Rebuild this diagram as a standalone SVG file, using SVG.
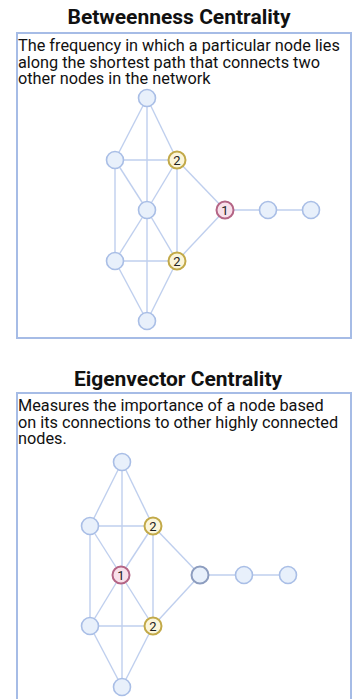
<svg xmlns="http://www.w3.org/2000/svg" width="354" height="699" viewBox="0 0 354 699">
<style>
.title{font-family:Roboto,"Liberation Sans",sans-serif;font-weight:bold;font-size:21px;fill:#111;text-anchor:middle}
.desc{font-family:Roboto,"Liberation Sans",sans-serif;font-size:16.3px;fill:#111}
.box{fill:#fff;stroke:#a6bce6;stroke-width:2}
.edge{stroke:#bfcfee;stroke-width:1.4;fill:none}
.n{fill:#e8f0fb;stroke:#a9bee6;stroke-width:1.6}
.n2{fill:#fbf5da;stroke:#c2a948;stroke-width:2}
.n1{fill:#f8e0ea;stroke:#b46485;stroke-width:2}
.nd{fill:#e8f0fb;stroke:#8d9dbf;stroke-width:2}
.lbl{font-family:Roboto,"Liberation Sans",sans-serif;font-size:13px;fill:#222;text-anchor:middle}
</style>
<rect width="354" height="699" fill="#fff"/>
<g id="panel1">
<text class="title" x="179" y="24">Betweenness Centrality</text>
<rect class="box" x="17" y="33" width="334" height="305"/>
<text class="desc" x="18" y="51">The frequency in which a particular node lies</text>
<text class="desc" x="18" y="67.5">along the shortest path that connects two</text>
<text class="desc" x="18" y="84">other nodes in the network</text>
</g>
<g id="edges1">
<line class="edge" x1="147" y1="98" x2="147" y2="321"/>
<line class="edge" x1="147" y1="98" x2="115" y2="160"/>
<line class="edge" x1="147" y1="98" x2="177" y2="160"/>
<line class="edge" x1="115" y1="160" x2="177" y2="160"/>
<line class="edge" x1="115" y1="160" x2="115" y2="261"/>
<line class="edge" x1="115" y1="160" x2="147" y2="210"/>
<line class="edge" x1="177" y1="160" x2="147" y2="210"/>
<line class="edge" x1="177" y1="160" x2="177" y2="261"/>
<line class="edge" x1="177" y1="160" x2="225" y2="210"/>
<line class="edge" x1="147" y1="210" x2="115" y2="261"/>
<line class="edge" x1="147" y1="210" x2="177" y2="261"/>
<line class="edge" x1="115" y1="261" x2="177" y2="261"/>
<line class="edge" x1="115" y1="261" x2="147" y2="321"/>
<line class="edge" x1="177" y1="261" x2="147" y2="321"/>
<line class="edge" x1="177" y1="261" x2="225" y2="210"/>
<line class="edge" x1="225" y1="210" x2="311" y2="210"/>
</g>
<g id="b-top"><circle class="n" cx="147" cy="98" r="8.5"/></g>
<g id="b-lu"><circle class="n" cx="115" cy="160" r="8.5"/></g>
<g id="b-ru"><circle class="n2" cx="177" cy="160" r="8.5"/><text class="lbl" x="177" y="164.5">2</text></g>
<g id="b-c"><circle class="n" cx="147" cy="210" r="8.5"/></g>
<g id="b-r1"><circle class="n1" cx="225" cy="210" r="8.5"/><text class="lbl" x="225" y="214.5">1</text></g>
<g id="b-r2"><circle class="n" cx="268" cy="210" r="8.5"/></g>
<g id="b-r3"><circle class="n" cx="311" cy="210" r="8.5"/></g>
<g id="b-ll"><circle class="n" cx="115" cy="261" r="8.5"/></g>
<g id="b-rl"><circle class="n2" cx="177" cy="261" r="8.5"/><text class="lbl" x="177" y="265.5">2</text></g>
<g id="b-bot"><circle class="n" cx="147" cy="321" r="8.5"/></g>

<g id="panel2">
<text class="title" x="178" y="386">Eigenvector Centrality</text>
<rect class="box" x="17" y="393" width="334" height="320"/>
<text class="desc" x="18" y="411">Measures the importance of a node based</text>
<text class="desc" x="18" y="427.5">on its connections to other highly connected</text>
<text class="desc" x="18" y="444">nodes.</text>
</g>
<g id="edges2">
<line class="edge" x1="122" y1="462" x2="122" y2="687"/>
<line class="edge" x1="122" y1="462" x2="90" y2="526"/>
<line class="edge" x1="122" y1="462" x2="153" y2="526"/>
<line class="edge" x1="90" y1="526" x2="153" y2="526"/>
<line class="edge" x1="90" y1="526" x2="90" y2="626"/>
<line class="edge" x1="90" y1="526" x2="121" y2="575"/>
<line class="edge" x1="153" y1="526" x2="121" y2="575"/>
<line class="edge" x1="153" y1="526" x2="153" y2="626"/>
<line class="edge" x1="153" y1="526" x2="200" y2="575"/>
<line class="edge" x1="121" y1="575" x2="90" y2="626"/>
<line class="edge" x1="121" y1="575" x2="153" y2="626"/>
<line class="edge" x1="90" y1="626" x2="153" y2="626"/>
<line class="edge" x1="90" y1="626" x2="122" y2="687"/>
<line class="edge" x1="153" y1="626" x2="122" y2="687"/>
<line class="edge" x1="153" y1="626" x2="200" y2="575"/>
<line class="edge" x1="200" y1="575" x2="288" y2="575"/>
</g>
<g id="e-top"><circle class="n" cx="122" cy="462" r="8.5"/></g>
<g id="e-lu"><circle class="n" cx="90" cy="526" r="8.5"/></g>
<g id="e-ru"><circle class="n2" cx="153" cy="526" r="8.5"/><text class="lbl" x="153" y="530.5">2</text></g>
<g id="e-c"><circle class="n1" cx="121" cy="575" r="8.5"/><text class="lbl" x="121" y="579.5">1</text></g>
<g id="e-r1"><circle class="nd" cx="200" cy="575" r="8.5"/></g>
<g id="e-r2"><circle class="n" cx="244" cy="575" r="8.5"/></g>
<g id="e-r3"><circle class="n" cx="288" cy="575" r="8.5"/></g>
<g id="e-ll"><circle class="n" cx="90" cy="626" r="8.5"/></g>
<g id="e-rl"><circle class="n2" cx="153" cy="626" r="8.5"/><text class="lbl" x="153" y="630.5">2</text></g>
<g id="e-bot"><circle class="n" cx="122" cy="687" r="8.5"/></g>
</svg>
